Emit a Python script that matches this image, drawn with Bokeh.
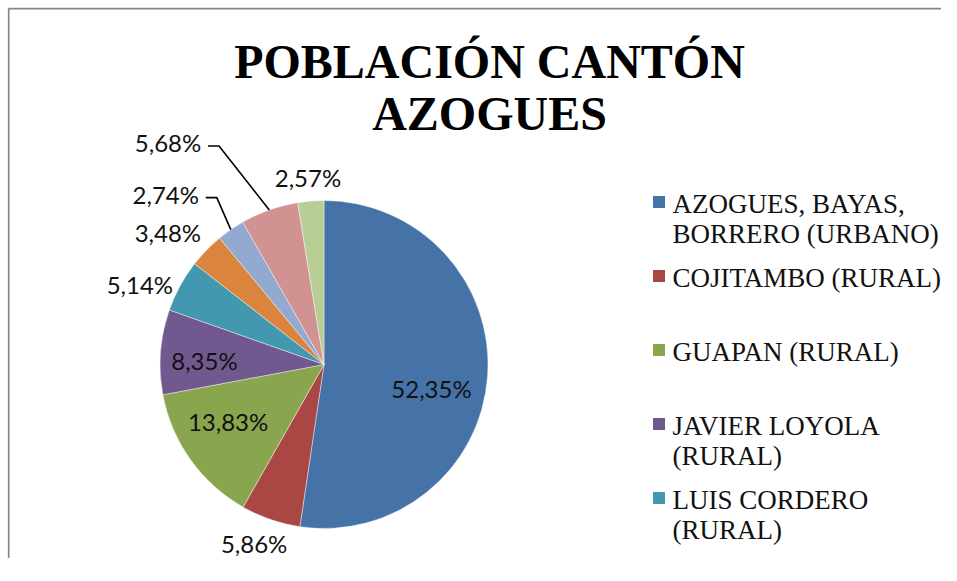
import math
from bokeh.plotting import figure
from bokeh.models import Range1d, ColumnDataSource
from bokeh.core.properties import value
from bokeh.embed import file_html
from bokeh.resources import INLINE

# ---------------- data ----------------
categories = [
    "AZOGUES, BAYAS,\nBORRERO (URBANO)",
    "COJITAMBO (RURAL)",
    "GUAPAN (RURAL)",
    "JAVIER LOYOLA\n(RURAL)",
    "LUIS CORDERO\n(RURAL)",
    "PINDILIG (RURAL)",
    "RIVERA (RURAL)",
    "SAN MIGUEL (RURAL)",
    "TADAY (RURAL)",
]
shares = [52.35, 5.86, 13.83, 8.35, 5.14, 3.48, 2.74, 5.68, 2.57]
title_lines = ["POBLACIÓN CANTÓN", "AZOGUES"]
legend_visible = 5

# ---------------- style ----------------
colors = ["#4572A7", "#AA4643", "#89A54E", "#71588F", "#4198AF",
          "#DB843D", "#93A9CF", "#D19392", "#B9CD96"]
# label placement: radial factor and angular nudge (degrees)
lab_r = [0.673, 1.178, 0.685, 0.729, 1.221, 1.244, 1.411, 1.647, 1.141]
lab_nudge = [-8.9, -2.2, -4.2, 3.0, 5.5, 4.1, 8.5, 15.8, 0.3]
leader = [False, False, False, False, False, False, True, True, False]

W, H = 941, 558


def Y(py):
    return H - py


cx, cy, R = 323.5, Y(364), 164

p = figure(width=W, height=H, x_range=Range1d(0, W), y_range=Range1d(0, H),
           x_axis_type=None, y_axis_type=None, toolbar_location=None,
           output_backend="svg", min_border=0, outline_line_color=None,
           background_fill_color="white", border_fill_color="white")
p.styles = {"border": "none"}

# chart area border (top and left visible)
p.line([8.2, 8.2, W + 5], [-5, Y(8.2), Y(8.2)], line_color="#868686", line_width=1.7)

# ---------------- pie ----------------
total = sum(shares)
starts, ends, mids = [], [], []
cum = 0.0
for v in shares:
    a0 = math.pi / 2 - 2 * math.pi * cum / total
    cum += v
    a1 = math.pi / 2 - 2 * math.pi * cum / total
    starts.append(a0)
    ends.append(a1)
    mids.append((a0 + a1) / 2)

src = ColumnDataSource(dict(start=starts, end=ends, color=colors, cat=categories, share=shares))
p.wedge(x=cx, y=cy, radius=R, start_angle="start", end_angle="end", direction="clock",
        fill_color="color", line_color="white", line_width=0.6, line_alpha=0.7, source=src)

# ---------------- data labels ----------------
lx, ly, ltxt = [], [], []
lead_xs, lead_ys = [], []
for i, v in enumerate(shares):
    ang = mids[i] + math.radians(lab_nudge[i])
    x = cx + lab_r[i] * R * math.cos(ang)
    y = cy + lab_r[i] * R * math.sin(ang)
    lx.append(x)
    ly.append(y + 1)
    ltxt.append(f"{v:.2f}%".replace(".", ","))
    if leader[i]:
        ex = cx + R * math.cos(mids[i])
        ey = cy + R * math.sin(mids[i])
        lead_xs.append([x + 40, x + 51, ex])
        lead_ys.append([y - 2, y - 2, ey])

p.text(x=lx, y=ly, text=ltxt, text_font=value("Lato"), text_font_size="24px",
       text_color="#111111", text_align="center", text_baseline="middle")
p.multi_line(xs=lead_xs, ys=lead_ys, line_color="black", line_width=1.6)

# ---------------- title ----------------
p.text(x=[489, 489], y=[Y(60.5), Y(112.5)], text=title_lines,
       text_font=value("Liberation Serif"), text_font_style="bold", text_font_size="48px",
       text_color="black", text_align="center", text_baseline="middle")

# ---------------- legend ----------------
sq_x, sq_y, sq_c = [], [], []
tx, ty, tt = [], [], []
for i in range(legend_visible):
    mid_y = Y(203) - 74 * i
    sq_x.append(658.5)
    sq_y.append(mid_y + 1.5)
    sq_c.append(colors[i])
    for j, line in enumerate(categories[i].split("\n")):
        tx.append(672)
        ty.append(mid_y - 30.5 * j)
        tt.append(line)

p.rect(x=sq_x, y=sq_y, width=12, height=12, fill_color=sq_c, line_color=None)
p.text(x=tx, y=ty, text=tt, text_font=value("Liberation Serif"), text_font_size="27px",
       text_color="#111111", text_align="left", text_baseline="middle")

open("out.html", "w").write(file_html(p, INLINE))
